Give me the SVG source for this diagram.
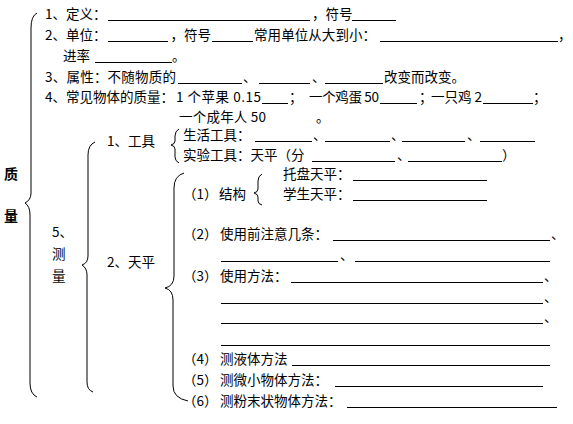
<svg xmlns="http://www.w3.org/2000/svg" width="573" height="424" viewBox="0 0 573 424">
<style>
text{font-family:"Noto Sans CJK SC","Noto Sans",sans-serif;font-size:13.5px;fill:#000}
.b{font-weight:bold;font-size:14px}
.u{stroke:#000;stroke-width:1;fill:none}
.br{stroke:#000;stroke-width:1;fill:none}
</style>
<rect width="573" height="424" fill="#fff"/>
<g id="title">
<text class="b" x="4" y="179">质</text>
<text class="b" x="4" y="221">量</text>
</g>
<g id="item1">
<text x="45" y="19">1、定义：</text>
<line class="u" x1="108" y1="20.5" x2="310" y2="20.5"/>
<text x="312" y="19">，符号</text>
<line class="u" x1="352" y1="20.5" x2="396" y2="20.5"/>
</g>
<g id="item2">
<text x="45" y="40">2、单位：</text>
<line class="u" x1="108" y1="41.5" x2="168" y2="41.5"/>
<text x="170.5" y="40">，符号</text>
<line class="u" x1="212" y1="41.5" x2="253" y2="41.5"/>
<text x="254" y="40" textLength="122">常用单位从大到小：</text>
<line class="u" x1="380" y1="41.5" x2="558" y2="41.5"/>
<text x="558" y="40" textLength="8">，</text>
<text x="63" y="61">进率</text>
<line class="u" x1="95" y1="62.5" x2="172" y2="62.5"/>
<text x="172" y="61">。</text>
</g>
<g id="item3">
<text x="45" y="82" textLength="131">3、属性：不随物质的</text>
<line class="u" x1="178" y1="83.5" x2="242" y2="83.5"/>
<text x="243" y="82">、</text>
<line class="u" x1="259" y1="83.5" x2="310" y2="83.5"/>
<text x="312" y="82">、</text>
<line class="u" x1="325" y1="83.5" x2="383" y2="83.5"/>
<text x="384" y="82">改变而改变。</text>
</g>
<g id="item4">
<text x="45" y="102">4、常见物体的质量：</text>
<text x="176" y="102" textLength="85">1 个苹果 0.15</text>
<line class="u" x1="262" y1="103.5" x2="288" y2="103.5"/>
<text x="289" y="102">；</text>
<text x="309" y="102" textLength="70">一个鸡蛋 50</text>
<line class="u" x1="380" y1="103.5" x2="417" y2="103.5"/>
<text x="419" y="102">；</text>
<text x="431" y="102" textLength="51">一只鸡 2</text>
<line class="u" x1="483" y1="103.5" x2="533" y2="103.5"/>
<text x="533" y="102">；</text>
<text x="179" y="121.5" textLength="87">一个成年人 50</text>
<text x="316" y="121.5">。</text>
</g>
<g id="item5">
<text x="52" y="237">5、</text>
<text x="52" y="259">测</text>
<text x="52" y="281">量</text>
</g>
<g id="tools">
<text x="107" y="146">1、工具</text>
<text x="183" y="140">生活工具：</text>
<line class="u" x1="255" y1="141.5" x2="312" y2="141.5"/>
<text x="313" y="140">、</text>
<line class="u" x1="325" y1="141.5" x2="390" y2="141.5"/>
<text x="391" y="140">、</text>
<line class="u" x1="402" y1="141.5" x2="465" y2="141.5"/>
<text x="467" y="140">、</text>
<line class="u" x1="480" y1="141.5" x2="535" y2="141.5"/>
<text x="183" y="160">实验工具：天平（分</text>
<line class="u" x1="312" y1="161.5" x2="395" y2="161.5"/>
<text x="397" y="160">、</text>
<line class="u" x1="408" y1="161.5" x2="502" y2="161.5"/>
<text x="502" y="160">）</text>
</g>
<g id="balance">
<text x="107" y="267">2、天平</text>
<text x="183" y="199">（1）</text>
<text x="219" y="199">结构</text>
<text x="283" y="179">托盘天平：</text>
<line class="u" x1="353" y1="180.5" x2="487" y2="180.5"/>
<text x="283" y="199">学生天平：</text>
<line class="u" x1="353" y1="200.5" x2="487" y2="200.5"/>
<text x="183" y="239">（2）</text>
<text x="220" y="239">使用前注意几条：</text>
<line class="u" x1="333" y1="240.5" x2="550" y2="240.5"/>
<text x="551" y="239">、</text>
<line class="u" x1="221" y1="261.5" x2="338" y2="261.5"/>
<text x="340" y="260">、</text>
<line class="u" x1="355" y1="261.5" x2="550" y2="261.5"/>
<text x="183" y="281">（3）</text>
<text x="220" y="281">使用方法：</text>
<line class="u" x1="291" y1="282.5" x2="543" y2="282.5"/>
<text x="544" y="281">、</text>
<line class="u" x1="221" y1="303.5" x2="543" y2="303.5"/>
<text x="544" y="302">、</text>
<line class="u" x1="221" y1="323.5" x2="543" y2="323.5"/>
<text x="544" y="322">、</text>
<line class="u" x1="221" y1="345.5" x2="550" y2="345.5"/>
<text x="183" y="364">（4）</text>
<text x="220" y="364">测液体方法</text>
<line class="u" x1="292" y1="365.5" x2="550" y2="365.5"/>
<text x="183" y="385">（5）</text>
<text x="220" y="385">测微小物体方法：</text>
<line class="u" x1="335" y1="386.5" x2="543" y2="386.5"/>
<text x="183" y="406">（6）</text>
<text x="220" y="406">测粉末状物体方法：</text>
<line class="u" x1="347" y1="407.5" x2="557" y2="407.5"/>
</g>
<g id="connectors">
<path class="br" d="M37,13 Q31,16 31,28 L31,193 Q31,200 25,203 Q30,206 30,215 L30,383 Q30,394 37,397"/>
<path class="br" d="M95,142 Q88,145 88,155 L88,256 Q88,263 82,265 Q87,268 87,275 L87,382 Q87,390 93,392"/>
<path class="br" d="M179,129 Q175,131 175,136 L175,141 Q175,144 171,145 Q175,146 175,149 L175,157 Q175,161 179,163"/>
<path class="br" d="M184,173 Q174,176 174,188 L174,276 Q174,286 165,288 Q173,290 173,300 L173,386 Q173,398 188,401"/>
<path class="br" d="M262,174 Q258,176 258,181 L258,189 Q258,192 254,193 Q258,194 258,197 L258,201 Q258,204 262,205"/>
</g>
</svg>
